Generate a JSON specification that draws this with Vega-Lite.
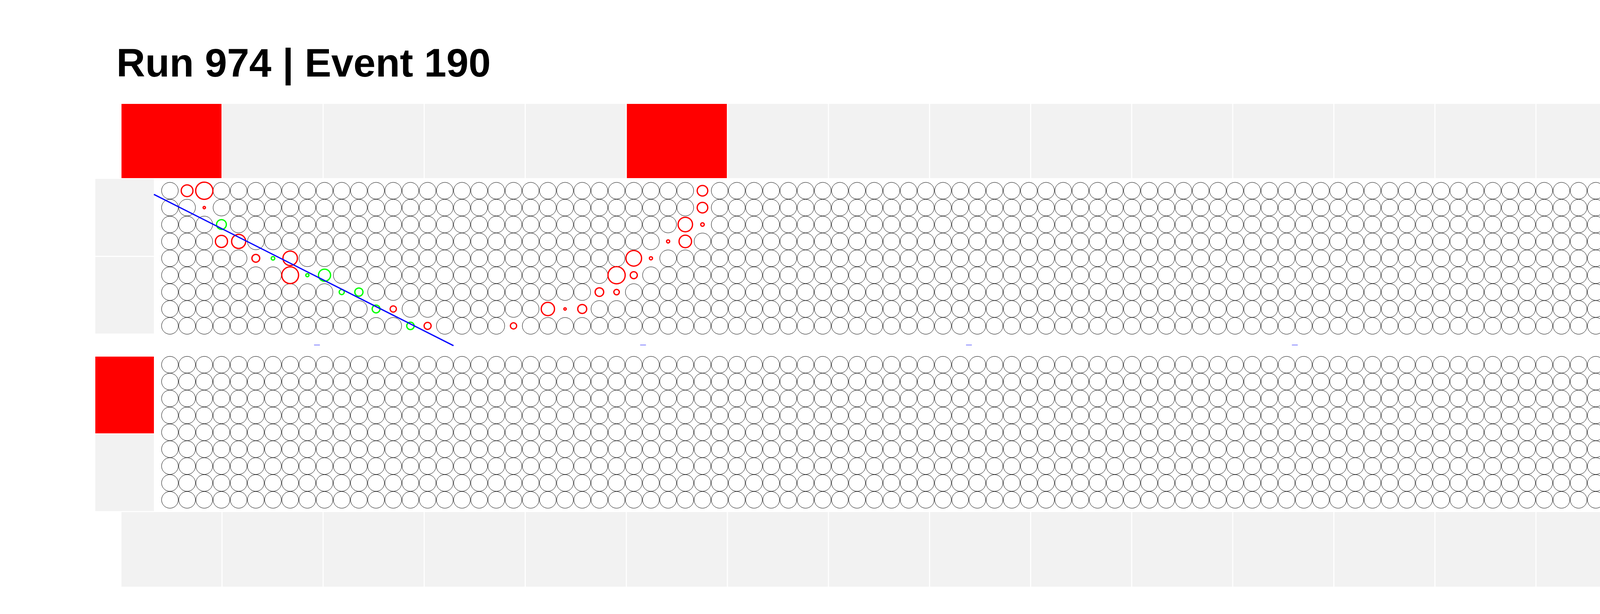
{
  "$schema": "https://vega.github.io/schema/vega-lite/v6.json",
  "width": 5796,
  "height": 1572,
  "autosize": {"type": "none"},
  "padding": 0,
  "background": "white",
  "config": {"view": {"stroke": null}},
  "datasets": {
    "boxes": [
      {"panel":"top","x0":-2.819,"x1":3.002,"y0":-51.40,"y1":-7.47,"state":"fired"},
      {"panel":"top","x0":3.064,"x1":8.885,"y0":-51.40,"y1":-7.47,"state":"idle"},
      {"panel":"top","x0":8.948,"x1":14.769,"y0":-51.40,"y1":-7.47,"state":"idle"},
      {"panel":"top","x0":14.831,"x1":20.652,"y0":-51.40,"y1":-7.47,"state":"idle"},
      {"panel":"top","x0":20.715,"x1":26.536,"y0":-51.40,"y1":-7.47,"state":"idle"},
      {"panel":"top","x0":26.598,"x1":32.419,"y0":-51.40,"y1":-7.47,"state":"fired"},
      {"panel":"top","x0":32.481,"x1":38.302,"y0":-51.40,"y1":-7.47,"state":"idle"},
      {"panel":"top","x0":38.365,"x1":44.186,"y0":-51.40,"y1":-7.47,"state":"idle"},
      {"panel":"top","x0":44.248,"x1":50.069,"y0":-51.40,"y1":-7.47,"state":"idle"},
      {"panel":"top","x0":50.132,"x1":55.953,"y0":-51.40,"y1":-7.47,"state":"idle"},
      {"panel":"top","x0":56.015,"x1":61.836,"y0":-51.40,"y1":-7.47,"state":"idle"},
      {"panel":"top","x0":61.898,"x1":67.719,"y0":-51.40,"y1":-7.47,"state":"idle"},
      {"panel":"top","x0":67.782,"x1":73.603,"y0":-51.40,"y1":-7.47,"state":"idle"},
      {"panel":"top","x0":73.665,"x1":79.486,"y0":-51.40,"y1":-7.47,"state":"idle"},
      {"panel":"top","x0":79.549,"x1":85.370,"y0":-51.40,"y1":-7.47,"state":"idle"},
      {"panel":"top","x0":85.432,"x1":91.253,"y0":-51.40,"y1":-7.47,"state":"idle"},
      {"panel":"top","x0":91.315,"x1":97.136,"y0":-51.40,"y1":-7.47,"state":"idle"},
      {"panel":"top","x0":97.199,"x1":103.020,"y0":-51.40,"y1":-7.47,"state":"idle"},
      {"panel":"top","x0":103.082,"x1":108.903,"y0":-51.40,"y1":-7.47,"state":"idle"},
      {"panel":"top","x0":108.966,"x1":114.787,"y0":-51.40,"y1":-7.47,"state":"idle"},
      {"panel":"bottom","x0":-2.819,"x1":3.002,"y0":190.22,"y1":234.38,"state":"idle"},
      {"panel":"bottom","x0":3.064,"x1":8.885,"y0":190.22,"y1":234.38,"state":"idle"},
      {"panel":"bottom","x0":8.948,"x1":14.769,"y0":190.22,"y1":234.38,"state":"idle"},
      {"panel":"bottom","x0":14.831,"x1":20.652,"y0":190.22,"y1":234.38,"state":"idle"},
      {"panel":"bottom","x0":20.715,"x1":26.536,"y0":190.22,"y1":234.38,"state":"idle"},
      {"panel":"bottom","x0":26.598,"x1":32.419,"y0":190.22,"y1":234.38,"state":"idle"},
      {"panel":"bottom","x0":32.481,"x1":38.302,"y0":190.22,"y1":234.38,"state":"idle"},
      {"panel":"bottom","x0":38.365,"x1":44.186,"y0":190.22,"y1":234.38,"state":"idle"},
      {"panel":"bottom","x0":44.248,"x1":50.069,"y0":190.22,"y1":234.38,"state":"idle"},
      {"panel":"bottom","x0":50.132,"x1":55.953,"y0":190.22,"y1":234.38,"state":"idle"},
      {"panel":"bottom","x0":56.015,"x1":61.836,"y0":190.22,"y1":234.38,"state":"idle"},
      {"panel":"bottom","x0":61.898,"x1":67.719,"y0":190.22,"y1":234.38,"state":"idle"},
      {"panel":"bottom","x0":67.782,"x1":73.603,"y0":190.22,"y1":234.38,"state":"idle"},
      {"panel":"bottom","x0":73.665,"x1":79.486,"y0":190.22,"y1":234.38,"state":"idle"},
      {"panel":"bottom","x0":79.549,"x1":85.370,"y0":190.22,"y1":234.38,"state":"idle"},
      {"panel":"bottom","x0":85.432,"x1":91.253,"y0":190.22,"y1":234.38,"state":"idle"},
      {"panel":"bottom","x0":91.315,"x1":97.136,"y0":190.22,"y1":234.38,"state":"idle"},
      {"panel":"bottom","x0":97.199,"x1":103.020,"y0":190.22,"y1":234.38,"state":"idle"},
      {"panel":"bottom","x0":103.082,"x1":108.903,"y0":190.22,"y1":234.38,"state":"idle"},
      {"panel":"bottom","x0":108.966,"x1":114.787,"y0":190.22,"y1":234.38,"state":"idle"},
      {"panel":"left","x0":-4.343,"x1":-0.932,"y0":-7.01,"y1":38.54,"state":"idle"},
      {"panel":"left","x0":-4.343,"x1":-0.932,"y0":39.21,"y1":84.53,"state":"idle"},
      {"panel":"left","x0":-4.343,"x1":-0.932,"y0":98.19,"y1":143.63,"state":"fired"},
      {"panel":"left","x0":-4.343,"x1":-0.932,"y0":144.32,"y1":189.64,"state":"idle"},
      {"panel":"right","x0":112.92,"x1":116.33,"y0":-7.01,"y1":38.54,"state":"fired"},
      {"panel":"right","x0":112.92,"x1":116.33,"y0":39.21,"y1":84.53,"state":"idle"},
      {"panel":"right","x0":112.92,"x1":116.33,"y0":98.19,"y1":143.63,"state":"idle"},
      {"panel":"right","x0":112.92,"x1":116.33,"y0":144.32,"y1":189.64,"state":"idle"}
    ],
    "pmt": [
{"x":0,"y":0},{"x":3,"y":0},{"x":4,"y":0},{"x":5,"y":0},{"x":6,"y":0},{"x":7,"y":0},{"x":8,"y":0},{"x":9,"y":0},{"x":10,"y":0},{"x":11,"y":0},{"x":12,"y":0},{"x":13,"y":0},{"x":14,"y":0},{"x":15,"y":0},{"x":16,"y":0},{"x":17,"y":0},{"x":18,"y":0},{"x":19,"y":0},{"x":20,"y":0},{"x":21,"y":0},{"x":22,"y":0},{"x":23,"y":0},{"x":24,"y":0},{"x":25,"y":0},{"x":26,"y":0},{"x":27,"y":0},{"x":28,"y":0},{"x":29,"y":0},{"x":30,"y":0},{"x":32,"y":0},{"x":33,"y":0},{"x":34,"y":0},{"x":35,"y":0},{"x":36,"y":0},{"x":37,"y":0},{"x":38,"y":0},{"x":39,"y":0},{"x":40,"y":0},{"x":41,"y":0},{"x":42,"y":0},{"x":43,"y":0},{"x":44,"y":0},{"x":45,"y":0},{"x":46,"y":0},{"x":47,"y":0},{"x":48,"y":0},{"x":49,"y":0},{"x":50,"y":0},{"x":51,"y":0},{"x":52,"y":0},{"x":53,"y":0},{"x":54,"y":0},{"x":55,"y":0},{"x":56,"y":0},{"x":57,"y":0},{"x":58,"y":0},{"x":59,"y":0},{"x":60,"y":0},{"x":61,"y":0},{"x":62,"y":0},{"x":63,"y":0},{"x":64,"y":0},{"x":65,"y":0},{"x":66,"y":0},{"x":67,"y":0},{"x":68,"y":0},{"x":69,"y":0},{"x":70,"y":0},{"x":71,"y":0},{"x":72,"y":0},{"x":73,"y":0},{"x":74,"y":0},{"x":75,"y":0},{"x":76,"y":0},{"x":77,"y":0},{"x":78,"y":0},{"x":79,"y":0},{"x":80,"y":0},{"x":81,"y":0},{"x":82,"y":0},{"x":83,"y":0},{"x":84,"y":0},{"x":85,"y":0},{"x":86,"y":0},{"x":87,"y":0},{"x":88,"y":0},{"x":89,"y":0},{"x":90,"y":0},{"x":91,"y":0},{"x":92,"y":0},{"x":93,"y":0},{"x":94,"y":0},{"x":95,"y":0},{"x":96,"y":0},{"x":97,"y":0},{"x":98,"y":0},{"x":99,"y":0},{"x":100,"y":0},{"x":101,"y":0},{"x":102,"y":0},{"x":103,"y":0},{"x":104,"y":0},{"x":105,"y":0},{"x":106,"y":0},{"x":107,"y":0},{"x":108,"y":0},{"x":109,"y":0},{"x":110,"y":0},{"x":111,"y":0},{"x":112,"y":0},
{"x":0,"y":10},{"x":1,"y":10},{"x":3,"y":10},{"x":4,"y":10},{"x":5,"y":10},{"x":6,"y":10},{"x":7,"y":10},{"x":8,"y":10},{"x":9,"y":10},{"x":10,"y":10},{"x":11,"y":10},{"x":12,"y":10},{"x":13,"y":10},{"x":14,"y":10},{"x":15,"y":10},{"x":16,"y":10},{"x":17,"y":10},{"x":18,"y":10},{"x":19,"y":10},{"x":20,"y":10},{"x":21,"y":10},{"x":22,"y":10},{"x":23,"y":10},{"x":24,"y":10},{"x":25,"y":10},{"x":26,"y":10},{"x":27,"y":10},{"x":28,"y":10},{"x":29,"y":10},{"x":30,"y":10},{"x":32,"y":10},{"x":33,"y":10},{"x":34,"y":10},{"x":35,"y":10},{"x":36,"y":10},{"x":37,"y":10},{"x":38,"y":10},{"x":39,"y":10},{"x":40,"y":10},{"x":41,"y":10},{"x":42,"y":10},{"x":43,"y":10},{"x":44,"y":10},{"x":45,"y":10},{"x":46,"y":10},{"x":47,"y":10},{"x":48,"y":10},{"x":49,"y":10},{"x":50,"y":10},{"x":51,"y":10},{"x":52,"y":10},{"x":53,"y":10},{"x":54,"y":10},{"x":55,"y":10},{"x":56,"y":10},{"x":57,"y":10},{"x":58,"y":10},{"x":59,"y":10},{"x":60,"y":10},{"x":61,"y":10},{"x":62,"y":10},{"x":63,"y":10},{"x":64,"y":10},{"x":65,"y":10},{"x":66,"y":10},{"x":67,"y":10},{"x":68,"y":10},{"x":69,"y":10},{"x":70,"y":10},{"x":71,"y":10},{"x":72,"y":10},{"x":73,"y":10},{"x":74,"y":10},{"x":75,"y":10},{"x":76,"y":10},{"x":77,"y":10},{"x":78,"y":10},{"x":79,"y":10},{"x":80,"y":10},{"x":81,"y":10},{"x":82,"y":10},{"x":83,"y":10},{"x":84,"y":10},{"x":85,"y":10},{"x":86,"y":10},{"x":87,"y":10},{"x":88,"y":10},{"x":89,"y":10},{"x":90,"y":10},{"x":91,"y":10},{"x":92,"y":10},{"x":93,"y":10},{"x":94,"y":10},{"x":95,"y":10},{"x":96,"y":10},{"x":97,"y":10},{"x":98,"y":10},{"x":99,"y":10},{"x":100,"y":10},{"x":101,"y":10},{"x":102,"y":10},{"x":103,"y":10},{"x":104,"y":10},{"x":105,"y":10},{"x":106,"y":10},{"x":107,"y":10},{"x":108,"y":10},{"x":109,"y":10},{"x":110,"y":10},{"x":111,"y":10},{"x":112,"y":10},
{"x":0,"y":20},{"x":1,"y":20},{"x":2,"y":20},{"x":4,"y":20},{"x":5,"y":20},{"x":6,"y":20},{"x":7,"y":20},{"x":8,"y":20},{"x":9,"y":20},{"x":10,"y":20},{"x":11,"y":20},{"x":12,"y":20},{"x":13,"y":20},{"x":14,"y":20},{"x":15,"y":20},{"x":16,"y":20},{"x":17,"y":20},{"x":18,"y":20},{"x":19,"y":20},{"x":20,"y":20},{"x":21,"y":20},{"x":22,"y":20},{"x":23,"y":20},{"x":24,"y":20},{"x":25,"y":20},{"x":26,"y":20},{"x":27,"y":20},{"x":28,"y":20},{"x":29,"y":20},{"x":32,"y":20},{"x":33,"y":20},{"x":34,"y":20},{"x":35,"y":20},{"x":36,"y":20},{"x":37,"y":20},{"x":38,"y":20},{"x":39,"y":20},{"x":40,"y":20},{"x":41,"y":20},{"x":42,"y":20},{"x":43,"y":20},{"x":44,"y":20},{"x":45,"y":20},{"x":46,"y":20},{"x":47,"y":20},{"x":48,"y":20},{"x":49,"y":20},{"x":50,"y":20},{"x":51,"y":20},{"x":52,"y":20},{"x":53,"y":20},{"x":54,"y":20},{"x":55,"y":20},{"x":56,"y":20},{"x":57,"y":20},{"x":58,"y":20},{"x":59,"y":20},{"x":60,"y":20},{"x":61,"y":20},{"x":62,"y":20},{"x":63,"y":20},{"x":64,"y":20},{"x":65,"y":20},{"x":66,"y":20},{"x":67,"y":20},{"x":68,"y":20},{"x":69,"y":20},{"x":70,"y":20},{"x":71,"y":20},{"x":72,"y":20},{"x":73,"y":20},{"x":74,"y":20},{"x":75,"y":20},{"x":76,"y":20},{"x":77,"y":20},{"x":78,"y":20},{"x":79,"y":20},{"x":80,"y":20},{"x":81,"y":20},{"x":82,"y":20},{"x":83,"y":20},{"x":84,"y":20},{"x":85,"y":20},{"x":86,"y":20},{"x":87,"y":20},{"x":88,"y":20},{"x":89,"y":20},{"x":90,"y":20},{"x":91,"y":20},{"x":92,"y":20},{"x":93,"y":20},{"x":94,"y":20},{"x":95,"y":20},{"x":96,"y":20},{"x":97,"y":20},{"x":98,"y":20},{"x":99,"y":20},{"x":100,"y":20},{"x":101,"y":20},{"x":102,"y":20},{"x":103,"y":20},{"x":104,"y":20},{"x":105,"y":20},{"x":106,"y":20},{"x":107,"y":20},{"x":108,"y":20},{"x":109,"y":20},{"x":110,"y":20},{"x":111,"y":20},{"x":112,"y":20},
{"x":0,"y":30},{"x":1,"y":30},{"x":2,"y":30},{"x":5,"y":30},{"x":6,"y":30},{"x":7,"y":30},{"x":8,"y":30},{"x":9,"y":30},{"x":10,"y":30},{"x":11,"y":30},{"x":12,"y":30},{"x":13,"y":30},{"x":14,"y":30},{"x":15,"y":30},{"x":16,"y":30},{"x":17,"y":30},{"x":18,"y":30},{"x":19,"y":30},{"x":20,"y":30},{"x":21,"y":30},{"x":22,"y":30},{"x":23,"y":30},{"x":24,"y":30},{"x":25,"y":30},{"x":26,"y":30},{"x":27,"y":30},{"x":28,"y":30},{"x":31,"y":30},{"x":32,"y":30},{"x":33,"y":30},{"x":34,"y":30},{"x":35,"y":30},{"x":36,"y":30},{"x":37,"y":30},{"x":38,"y":30},{"x":39,"y":30},{"x":40,"y":30},{"x":41,"y":30},{"x":42,"y":30},{"x":43,"y":30},{"x":44,"y":30},{"x":45,"y":30},{"x":46,"y":30},{"x":47,"y":30},{"x":48,"y":30},{"x":49,"y":30},{"x":50,"y":30},{"x":51,"y":30},{"x":52,"y":30},{"x":53,"y":30},{"x":54,"y":30},{"x":55,"y":30},{"x":56,"y":30},{"x":57,"y":30},{"x":58,"y":30},{"x":59,"y":30},{"x":60,"y":30},{"x":61,"y":30},{"x":62,"y":30},{"x":63,"y":30},{"x":64,"y":30},{"x":65,"y":30},{"x":66,"y":30},{"x":67,"y":30},{"x":68,"y":30},{"x":69,"y":30},{"x":70,"y":30},{"x":71,"y":30},{"x":72,"y":30},{"x":73,"y":30},{"x":74,"y":30},{"x":75,"y":30},{"x":76,"y":30},{"x":77,"y":30},{"x":78,"y":30},{"x":79,"y":30},{"x":80,"y":30},{"x":81,"y":30},{"x":82,"y":30},{"x":83,"y":30},{"x":84,"y":30},{"x":85,"y":30},{"x":86,"y":30},{"x":87,"y":30},{"x":88,"y":30},{"x":89,"y":30},{"x":90,"y":30},{"x":91,"y":30},{"x":92,"y":30},{"x":93,"y":30},{"x":94,"y":30},{"x":95,"y":30},{"x":96,"y":30},{"x":97,"y":30},{"x":98,"y":30},{"x":99,"y":30},{"x":100,"y":30},{"x":101,"y":30},{"x":102,"y":30},{"x":103,"y":30},{"x":104,"y":30},{"x":105,"y":30},{"x":106,"y":30},{"x":107,"y":30},{"x":108,"y":30},{"x":109,"y":30},{"x":110,"y":30},{"x":111,"y":30},{"x":112,"y":30},
{"x":0,"y":40},{"x":1,"y":40},{"x":2,"y":40},{"x":3,"y":40},{"x":4,"y":40},{"x":8,"y":40},{"x":9,"y":40},{"x":10,"y":40},{"x":11,"y":40},{"x":12,"y":40},{"x":13,"y":40},{"x":14,"y":40},{"x":15,"y":40},{"x":16,"y":40},{"x":17,"y":40},{"x":18,"y":40},{"x":19,"y":40},{"x":20,"y":40},{"x":21,"y":40},{"x":22,"y":40},{"x":23,"y":40},{"x":24,"y":40},{"x":25,"y":40},{"x":26,"y":40},{"x":29,"y":40},{"x":30,"y":40},{"x":31,"y":40},{"x":32,"y":40},{"x":33,"y":40},{"x":34,"y":40},{"x":35,"y":40},{"x":36,"y":40},{"x":37,"y":40},{"x":38,"y":40},{"x":39,"y":40},{"x":40,"y":40},{"x":41,"y":40},{"x":42,"y":40},{"x":43,"y":40},{"x":44,"y":40},{"x":45,"y":40},{"x":46,"y":40},{"x":47,"y":40},{"x":48,"y":40},{"x":49,"y":40},{"x":50,"y":40},{"x":51,"y":40},{"x":52,"y":40},{"x":53,"y":40},{"x":54,"y":40},{"x":55,"y":40},{"x":56,"y":40},{"x":57,"y":40},{"x":58,"y":40},{"x":59,"y":40},{"x":60,"y":40},{"x":61,"y":40},{"x":62,"y":40},{"x":63,"y":40},{"x":64,"y":40},{"x":65,"y":40},{"x":66,"y":40},{"x":67,"y":40},{"x":68,"y":40},{"x":69,"y":40},{"x":70,"y":40},{"x":71,"y":40},{"x":72,"y":40},{"x":73,"y":40},{"x":74,"y":40},{"x":75,"y":40},{"x":76,"y":40},{"x":77,"y":40},{"x":78,"y":40},{"x":79,"y":40},{"x":80,"y":40},{"x":81,"y":40},{"x":82,"y":40},{"x":83,"y":40},{"x":84,"y":40},{"x":85,"y":40},{"x":86,"y":40},{"x":87,"y":40},{"x":88,"y":40},{"x":89,"y":40},{"x":90,"y":40},{"x":91,"y":40},{"x":92,"y":40},{"x":93,"y":40},{"x":94,"y":40},{"x":95,"y":40},{"x":96,"y":40},{"x":97,"y":40},{"x":98,"y":40},{"x":99,"y":40},{"x":100,"y":40},{"x":101,"y":40},{"x":102,"y":40},{"x":103,"y":40},{"x":104,"y":40},{"x":105,"y":40},{"x":106,"y":40},{"x":107,"y":40},{"x":108,"y":40},{"x":109,"y":40},{"x":110,"y":40},{"x":111,"y":40},{"x":112,"y":40},
{"x":0,"y":50},{"x":1,"y":50},{"x":2,"y":50},{"x":3,"y":50},{"x":4,"y":50},{"x":5,"y":50},{"x":6,"y":50},{"x":10,"y":50},{"x":11,"y":50},{"x":12,"y":50},{"x":13,"y":50},{"x":14,"y":50},{"x":15,"y":50},{"x":16,"y":50},{"x":17,"y":50},{"x":18,"y":50},{"x":19,"y":50},{"x":20,"y":50},{"x":21,"y":50},{"x":22,"y":50},{"x":23,"y":50},{"x":24,"y":50},{"x":25,"y":50},{"x":28,"y":50},{"x":29,"y":50},{"x":30,"y":50},{"x":31,"y":50},{"x":32,"y":50},{"x":33,"y":50},{"x":34,"y":50},{"x":35,"y":50},{"x":36,"y":50},{"x":37,"y":50},{"x":38,"y":50},{"x":39,"y":50},{"x":40,"y":50},{"x":41,"y":50},{"x":42,"y":50},{"x":43,"y":50},{"x":44,"y":50},{"x":45,"y":50},{"x":46,"y":50},{"x":47,"y":50},{"x":48,"y":50},{"x":49,"y":50},{"x":50,"y":50},{"x":51,"y":50},{"x":52,"y":50},{"x":53,"y":50},{"x":54,"y":50},{"x":55,"y":50},{"x":56,"y":50},{"x":57,"y":50},{"x":58,"y":50},{"x":59,"y":50},{"x":60,"y":50},{"x":61,"y":50},{"x":62,"y":50},{"x":63,"y":50},{"x":64,"y":50},{"x":65,"y":50},{"x":66,"y":50},{"x":67,"y":50},{"x":68,"y":50},{"x":69,"y":50},{"x":70,"y":50},{"x":71,"y":50},{"x":72,"y":50},{"x":73,"y":50},{"x":74,"y":50},{"x":75,"y":50},{"x":76,"y":50},{"x":77,"y":50},{"x":78,"y":50},{"x":79,"y":50},{"x":80,"y":50},{"x":81,"y":50},{"x":82,"y":50},{"x":83,"y":50},{"x":84,"y":50},{"x":85,"y":50},{"x":86,"y":50},{"x":87,"y":50},{"x":88,"y":50},{"x":89,"y":50},{"x":90,"y":50},{"x":91,"y":50},{"x":92,"y":50},{"x":93,"y":50},{"x":94,"y":50},{"x":95,"y":50},{"x":96,"y":50},{"x":97,"y":50},{"x":98,"y":50},{"x":99,"y":50},{"x":100,"y":50},{"x":101,"y":50},{"x":102,"y":50},{"x":103,"y":50},{"x":104,"y":50},{"x":105,"y":50},{"x":106,"y":50},{"x":107,"y":50},{"x":108,"y":50},{"x":109,"y":50},{"x":110,"y":50},{"x":111,"y":50},{"x":112,"y":50},
{"x":0,"y":60},{"x":1,"y":60},{"x":2,"y":60},{"x":3,"y":60},{"x":4,"y":60},{"x":5,"y":60},{"x":6,"y":60},{"x":7,"y":60},{"x":8,"y":60},{"x":9,"y":60},{"x":12,"y":60},{"x":13,"y":60},{"x":14,"y":60},{"x":15,"y":60},{"x":16,"y":60},{"x":17,"y":60},{"x":18,"y":60},{"x":19,"y":60},{"x":20,"y":60},{"x":21,"y":60},{"x":22,"y":60},{"x":23,"y":60},{"x":24,"y":60},{"x":27,"y":60},{"x":28,"y":60},{"x":29,"y":60},{"x":30,"y":60},{"x":31,"y":60},{"x":32,"y":60},{"x":33,"y":60},{"x":34,"y":60},{"x":35,"y":60},{"x":36,"y":60},{"x":37,"y":60},{"x":38,"y":60},{"x":39,"y":60},{"x":40,"y":60},{"x":41,"y":60},{"x":42,"y":60},{"x":43,"y":60},{"x":44,"y":60},{"x":45,"y":60},{"x":46,"y":60},{"x":47,"y":60},{"x":48,"y":60},{"x":49,"y":60},{"x":50,"y":60},{"x":51,"y":60},{"x":52,"y":60},{"x":53,"y":60},{"x":54,"y":60},{"x":55,"y":60},{"x":56,"y":60},{"x":57,"y":60},{"x":58,"y":60},{"x":59,"y":60},{"x":60,"y":60},{"x":61,"y":60},{"x":62,"y":60},{"x":63,"y":60},{"x":64,"y":60},{"x":65,"y":60},{"x":66,"y":60},{"x":67,"y":60},{"x":68,"y":60},{"x":69,"y":60},{"x":70,"y":60},{"x":71,"y":60},{"x":72,"y":60},{"x":73,"y":60},{"x":74,"y":60},{"x":75,"y":60},{"x":76,"y":60},{"x":77,"y":60},{"x":78,"y":60},{"x":79,"y":60},{"x":80,"y":60},{"x":81,"y":60},{"x":82,"y":60},{"x":83,"y":60},{"x":84,"y":60},{"x":85,"y":60},{"x":86,"y":60},{"x":87,"y":60},{"x":88,"y":60},{"x":89,"y":60},{"x":90,"y":60},{"x":91,"y":60},{"x":92,"y":60},{"x":93,"y":60},{"x":94,"y":60},{"x":95,"y":60},{"x":96,"y":60},{"x":98,"y":60},{"x":99,"y":60},{"x":100,"y":60},{"x":101,"y":60},{"x":102,"y":60},{"x":103,"y":60},{"x":104,"y":60},{"x":105,"y":60},{"x":106,"y":60},{"x":107,"y":60},{"x":108,"y":60},{"x":109,"y":60},{"x":110,"y":60},{"x":111,"y":60},{"x":112,"y":60},
{"x":0,"y":70},{"x":1,"y":70},{"x":2,"y":70},{"x":3,"y":70},{"x":4,"y":70},{"x":5,"y":70},{"x":6,"y":70},{"x":7,"y":70},{"x":8,"y":70},{"x":9,"y":70},{"x":10,"y":70},{"x":11,"y":70},{"x":14,"y":70},{"x":15,"y":70},{"x":16,"y":70},{"x":17,"y":70},{"x":18,"y":70},{"x":19,"y":70},{"x":20,"y":70},{"x":21,"y":70},{"x":25,"y":70},{"x":26,"y":70},{"x":27,"y":70},{"x":28,"y":70},{"x":29,"y":70},{"x":30,"y":70},{"x":31,"y":70},{"x":32,"y":70},{"x":33,"y":70},{"x":34,"y":70},{"x":35,"y":70},{"x":36,"y":70},{"x":37,"y":70},{"x":38,"y":70},{"x":39,"y":70},{"x":40,"y":70},{"x":41,"y":70},{"x":42,"y":70},{"x":43,"y":70},{"x":44,"y":70},{"x":45,"y":70},{"x":46,"y":70},{"x":47,"y":70},{"x":48,"y":70},{"x":49,"y":70},{"x":50,"y":70},{"x":51,"y":70},{"x":52,"y":70},{"x":53,"y":70},{"x":54,"y":70},{"x":55,"y":70},{"x":56,"y":70},{"x":57,"y":70},{"x":58,"y":70},{"x":59,"y":70},{"x":60,"y":70},{"x":61,"y":70},{"x":62,"y":70},{"x":63,"y":70},{"x":64,"y":70},{"x":65,"y":70},{"x":66,"y":70},{"x":67,"y":70},{"x":68,"y":70},{"x":69,"y":70},{"x":70,"y":70},{"x":71,"y":70},{"x":72,"y":70},{"x":73,"y":70},{"x":74,"y":70},{"x":75,"y":70},{"x":76,"y":70},{"x":77,"y":70},{"x":78,"y":70},{"x":79,"y":70},{"x":80,"y":70},{"x":81,"y":70},{"x":82,"y":70},{"x":83,"y":70},{"x":84,"y":70},{"x":85,"y":70},{"x":86,"y":70},{"x":87,"y":70},{"x":88,"y":70},{"x":89,"y":70},{"x":90,"y":70},{"x":91,"y":70},{"x":92,"y":70},{"x":93,"y":70},{"x":94,"y":70},{"x":95,"y":70},{"x":96,"y":70},{"x":97,"y":70},{"x":98,"y":70},{"x":99,"y":70},{"x":100,"y":70},{"x":101,"y":70},{"x":102,"y":70},{"x":103,"y":70},{"x":104,"y":70},{"x":105,"y":70},{"x":106,"y":70},{"x":107,"y":70},{"x":108,"y":70},{"x":109,"y":70},{"x":110,"y":70},{"x":111,"y":70},{"x":112,"y":70},
{"x":0,"y":80},{"x":1,"y":80},{"x":2,"y":80},{"x":3,"y":80},{"x":4,"y":80},{"x":5,"y":80},{"x":6,"y":80},{"x":7,"y":80},{"x":8,"y":80},{"x":9,"y":80},{"x":10,"y":80},{"x":11,"y":80},{"x":12,"y":80},{"x":13,"y":80},{"x":16,"y":80},{"x":17,"y":80},{"x":18,"y":80},{"x":19,"y":80},{"x":21,"y":80},{"x":22,"y":80},{"x":23,"y":80},{"x":24,"y":80},{"x":25,"y":80},{"x":26,"y":80},{"x":27,"y":80},{"x":28,"y":80},{"x":29,"y":80},{"x":30,"y":80},{"x":31,"y":80},{"x":32,"y":80},{"x":33,"y":80},{"x":34,"y":80},{"x":35,"y":80},{"x":36,"y":80},{"x":37,"y":80},{"x":38,"y":80},{"x":39,"y":80},{"x":40,"y":80},{"x":41,"y":80},{"x":42,"y":80},{"x":43,"y":80},{"x":44,"y":80},{"x":45,"y":80},{"x":46,"y":80},{"x":47,"y":80},{"x":48,"y":80},{"x":49,"y":80},{"x":50,"y":80},{"x":51,"y":80},{"x":52,"y":80},{"x":53,"y":80},{"x":54,"y":80},{"x":55,"y":80},{"x":56,"y":80},{"x":57,"y":80},{"x":58,"y":80},{"x":59,"y":80},{"x":60,"y":80},{"x":61,"y":80},{"x":62,"y":80},{"x":63,"y":80},{"x":64,"y":80},{"x":65,"y":80},{"x":66,"y":80},{"x":67,"y":80},{"x":68,"y":80},{"x":69,"y":80},{"x":70,"y":80},{"x":71,"y":80},{"x":72,"y":80},{"x":73,"y":80},{"x":74,"y":80},{"x":75,"y":80},{"x":76,"y":80},{"x":77,"y":80},{"x":78,"y":80},{"x":79,"y":80},{"x":80,"y":80},{"x":81,"y":80},{"x":82,"y":80},{"x":83,"y":80},{"x":84,"y":80},{"x":85,"y":80},{"x":86,"y":80},{"x":87,"y":80},{"x":88,"y":80},{"x":89,"y":80},{"x":90,"y":80},{"x":91,"y":80},{"x":92,"y":80},{"x":93,"y":80},{"x":94,"y":80},{"x":95,"y":80},{"x":96,"y":80},{"x":97,"y":80},{"x":98,"y":80},{"x":99,"y":80},{"x":100,"y":80},{"x":101,"y":80},{"x":102,"y":80},{"x":103,"y":80},{"x":104,"y":80},{"x":105,"y":80},{"x":106,"y":80},{"x":107,"y":80},{"x":108,"y":80},{"x":109,"y":80},{"x":110,"y":80},{"x":111,"y":80},{"x":112,"y":80},
{"x":0,"y":103},{"x":1,"y":103},{"x":2,"y":103},{"x":3,"y":103},{"x":4,"y":103},{"x":5,"y":103},{"x":6,"y":103},{"x":7,"y":103},{"x":8,"y":103},{"x":9,"y":103},{"x":10,"y":103},{"x":11,"y":103},{"x":12,"y":103},{"x":13,"y":103},{"x":14,"y":103},{"x":15,"y":103},{"x":16,"y":103},{"x":17,"y":103},{"x":18,"y":103},{"x":19,"y":103},{"x":20,"y":103},{"x":21,"y":103},{"x":22,"y":103},{"x":23,"y":103},{"x":24,"y":103},{"x":25,"y":103},{"x":26,"y":103},{"x":27,"y":103},{"x":28,"y":103},{"x":29,"y":103},{"x":30,"y":103},{"x":31,"y":103},{"x":32,"y":103},{"x":33,"y":103},{"x":34,"y":103},{"x":35,"y":103},{"x":36,"y":103},{"x":37,"y":103},{"x":38,"y":103},{"x":39,"y":103},{"x":40,"y":103},{"x":41,"y":103},{"x":42,"y":103},{"x":43,"y":103},{"x":44,"y":103},{"x":45,"y":103},{"x":46,"y":103},{"x":47,"y":103},{"x":48,"y":103},{"x":49,"y":103},{"x":50,"y":103},{"x":51,"y":103},{"x":52,"y":103},{"x":53,"y":103},{"x":54,"y":103},{"x":55,"y":103},{"x":56,"y":103},{"x":57,"y":103},{"x":58,"y":103},{"x":59,"y":103},{"x":60,"y":103},{"x":61,"y":103},{"x":62,"y":103},{"x":63,"y":103},{"x":64,"y":103},{"x":65,"y":103},{"x":66,"y":103},{"x":67,"y":103},{"x":68,"y":103},{"x":69,"y":103},{"x":70,"y":103},{"x":71,"y":103},{"x":72,"y":103},{"x":73,"y":103},{"x":74,"y":103},{"x":75,"y":103},{"x":76,"y":103},{"x":77,"y":103},{"x":78,"y":103},{"x":79,"y":103},{"x":80,"y":103},{"x":81,"y":103},{"x":82,"y":103},{"x":83,"y":103},{"x":84,"y":103},{"x":85,"y":103},{"x":86,"y":103},{"x":87,"y":103},{"x":88,"y":103},{"x":89,"y":103},{"x":90,"y":103},{"x":91,"y":103},{"x":92,"y":103},{"x":93,"y":103},{"x":94,"y":103},{"x":95,"y":103},{"x":96,"y":103},{"x":97,"y":103},{"x":98,"y":103},{"x":99,"y":103},{"x":100,"y":103},{"x":101,"y":103},{"x":102,"y":103},{"x":103,"y":103},{"x":104,"y":103},{"x":105,"y":103},{"x":106,"y":103},{"x":107,"y":103},{"x":108,"y":103},{"x":109,"y":103},{"x":110,"y":103},{"x":111,"y":103},{"x":112,"y":103},
{"x":0,"y":113},{"x":1,"y":113},{"x":2,"y":113},{"x":3,"y":113},{"x":4,"y":113},{"x":5,"y":113},{"x":6,"y":113},{"x":7,"y":113},{"x":8,"y":113},{"x":9,"y":113},{"x":10,"y":113},{"x":11,"y":113},{"x":12,"y":113},{"x":13,"y":113},{"x":14,"y":113},{"x":15,"y":113},{"x":16,"y":113},{"x":17,"y":113},{"x":18,"y":113},{"x":19,"y":113},{"x":20,"y":113},{"x":21,"y":113},{"x":22,"y":113},{"x":23,"y":113},{"x":24,"y":113},{"x":25,"y":113},{"x":26,"y":113},{"x":27,"y":113},{"x":28,"y":113},{"x":29,"y":113},{"x":30,"y":113},{"x":31,"y":113},{"x":32,"y":113},{"x":33,"y":113},{"x":34,"y":113},{"x":35,"y":113},{"x":36,"y":113},{"x":37,"y":113},{"x":38,"y":113},{"x":39,"y":113},{"x":40,"y":113},{"x":41,"y":113},{"x":42,"y":113},{"x":43,"y":113},{"x":44,"y":113},{"x":45,"y":113},{"x":46,"y":113},{"x":47,"y":113},{"x":48,"y":113},{"x":49,"y":113},{"x":50,"y":113},{"x":51,"y":113},{"x":52,"y":113},{"x":53,"y":113},{"x":54,"y":113},{"x":55,"y":113},{"x":56,"y":113},{"x":57,"y":113},{"x":58,"y":113},{"x":59,"y":113},{"x":60,"y":113},{"x":61,"y":113},{"x":62,"y":113},{"x":63,"y":113},{"x":64,"y":113},{"x":65,"y":113},{"x":66,"y":113},{"x":67,"y":113},{"x":68,"y":113},{"x":69,"y":113},{"x":70,"y":113},{"x":71,"y":113},{"x":72,"y":113},{"x":73,"y":113},{"x":74,"y":113},{"x":75,"y":113},{"x":76,"y":113},{"x":77,"y":113},{"x":78,"y":113},{"x":79,"y":113},{"x":80,"y":113},{"x":81,"y":113},{"x":82,"y":113},{"x":83,"y":113},{"x":84,"y":113},{"x":85,"y":113},{"x":86,"y":113},{"x":87,"y":113},{"x":88,"y":113},{"x":89,"y":113},{"x":90,"y":113},{"x":91,"y":113},{"x":92,"y":113},{"x":93,"y":113},{"x":94,"y":113},{"x":95,"y":113},{"x":96,"y":113},{"x":97,"y":113},{"x":98,"y":113},{"x":99,"y":113},{"x":100,"y":113},{"x":101,"y":113},{"x":102,"y":113},{"x":103,"y":113},{"x":104,"y":113},{"x":105,"y":113},{"x":106,"y":113},{"x":107,"y":113},{"x":108,"y":113},{"x":109,"y":113},{"x":110,"y":113},{"x":111,"y":113},{"x":112,"y":113},
{"x":0,"y":123},{"x":1,"y":123},{"x":2,"y":123},{"x":3,"y":123},{"x":4,"y":123},{"x":5,"y":123},{"x":6,"y":123},{"x":7,"y":123},{"x":8,"y":123},{"x":9,"y":123},{"x":10,"y":123},{"x":11,"y":123},{"x":12,"y":123},{"x":13,"y":123},{"x":14,"y":123},{"x":15,"y":123},{"x":16,"y":123},{"x":17,"y":123},{"x":18,"y":123},{"x":19,"y":123},{"x":20,"y":123},{"x":21,"y":123},{"x":22,"y":123},{"x":23,"y":123},{"x":24,"y":123},{"x":25,"y":123},{"x":26,"y":123},{"x":27,"y":123},{"x":28,"y":123},{"x":29,"y":123},{"x":30,"y":123},{"x":31,"y":123},{"x":32,"y":123},{"x":33,"y":123},{"x":34,"y":123},{"x":35,"y":123},{"x":36,"y":123},{"x":37,"y":123},{"x":38,"y":123},{"x":39,"y":123},{"x":40,"y":123},{"x":41,"y":123},{"x":42,"y":123},{"x":43,"y":123},{"x":44,"y":123},{"x":45,"y":123},{"x":46,"y":123},{"x":47,"y":123},{"x":48,"y":123},{"x":49,"y":123},{"x":50,"y":123},{"x":51,"y":123},{"x":52,"y":123},{"x":53,"y":123},{"x":54,"y":123},{"x":55,"y":123},{"x":56,"y":123},{"x":57,"y":123},{"x":58,"y":123},{"x":59,"y":123},{"x":60,"y":123},{"x":61,"y":123},{"x":62,"y":123},{"x":63,"y":123},{"x":64,"y":123},{"x":65,"y":123},{"x":66,"y":123},{"x":67,"y":123},{"x":68,"y":123},{"x":69,"y":123},{"x":70,"y":123},{"x":71,"y":123},{"x":72,"y":123},{"x":73,"y":123},{"x":74,"y":123},{"x":75,"y":123},{"x":76,"y":123},{"x":77,"y":123},{"x":78,"y":123},{"x":79,"y":123},{"x":80,"y":123},{"x":81,"y":123},{"x":82,"y":123},{"x":83,"y":123},{"x":84,"y":123},{"x":85,"y":123},{"x":86,"y":123},{"x":87,"y":123},{"x":88,"y":123},{"x":89,"y":123},{"x":90,"y":123},{"x":91,"y":123},{"x":92,"y":123},{"x":93,"y":123},{"x":94,"y":123},{"x":95,"y":123},{"x":96,"y":123},{"x":97,"y":123},{"x":98,"y":123},{"x":99,"y":123},{"x":100,"y":123},{"x":101,"y":123},{"x":102,"y":123},{"x":103,"y":123},{"x":104,"y":123},{"x":105,"y":123},{"x":106,"y":123},{"x":107,"y":123},{"x":108,"y":123},{"x":109,"y":123},{"x":110,"y":123},{"x":111,"y":123},{"x":112,"y":123},
{"x":0,"y":133},{"x":1,"y":133},{"x":2,"y":133},{"x":3,"y":133},{"x":4,"y":133},{"x":5,"y":133},{"x":6,"y":133},{"x":7,"y":133},{"x":8,"y":133},{"x":9,"y":133},{"x":10,"y":133},{"x":11,"y":133},{"x":12,"y":133},{"x":13,"y":133},{"x":14,"y":133},{"x":15,"y":133},{"x":16,"y":133},{"x":17,"y":133},{"x":18,"y":133},{"x":19,"y":133},{"x":20,"y":133},{"x":21,"y":133},{"x":22,"y":133},{"x":23,"y":133},{"x":24,"y":133},{"x":25,"y":133},{"x":26,"y":133},{"x":27,"y":133},{"x":28,"y":133},{"x":29,"y":133},{"x":30,"y":133},{"x":31,"y":133},{"x":32,"y":133},{"x":33,"y":133},{"x":34,"y":133},{"x":35,"y":133},{"x":36,"y":133},{"x":37,"y":133},{"x":38,"y":133},{"x":39,"y":133},{"x":40,"y":133},{"x":41,"y":133},{"x":42,"y":133},{"x":43,"y":133},{"x":44,"y":133},{"x":45,"y":133},{"x":46,"y":133},{"x":47,"y":133},{"x":48,"y":133},{"x":49,"y":133},{"x":50,"y":133},{"x":51,"y":133},{"x":52,"y":133},{"x":53,"y":133},{"x":54,"y":133},{"x":55,"y":133},{"x":56,"y":133},{"x":57,"y":133},{"x":58,"y":133},{"x":59,"y":133},{"x":60,"y":133},{"x":61,"y":133},{"x":62,"y":133},{"x":63,"y":133},{"x":64,"y":133},{"x":65,"y":133},{"x":66,"y":133},{"x":67,"y":133},{"x":68,"y":133},{"x":69,"y":133},{"x":70,"y":133},{"x":71,"y":133},{"x":72,"y":133},{"x":73,"y":133},{"x":74,"y":133},{"x":75,"y":133},{"x":76,"y":133},{"x":77,"y":133},{"x":78,"y":133},{"x":79,"y":133},{"x":80,"y":133},{"x":81,"y":133},{"x":82,"y":133},{"x":83,"y":133},{"x":84,"y":133},{"x":85,"y":133},{"x":86,"y":133},{"x":87,"y":133},{"x":88,"y":133},{"x":89,"y":133},{"x":90,"y":133},{"x":91,"y":133},{"x":92,"y":133},{"x":93,"y":133},{"x":94,"y":133},{"x":95,"y":133},{"x":96,"y":133},{"x":97,"y":133},{"x":98,"y":133},{"x":99,"y":133},{"x":100,"y":133},{"x":101,"y":133},{"x":102,"y":133},{"x":103,"y":133},{"x":104,"y":133},{"x":105,"y":133},{"x":106,"y":133},{"x":107,"y":133},{"x":108,"y":133},{"x":109,"y":133},{"x":110,"y":133},{"x":111,"y":133},{"x":112,"y":133},
{"x":0,"y":143},{"x":1,"y":143},{"x":2,"y":143},{"x":3,"y":143},{"x":4,"y":143},{"x":5,"y":143},{"x":6,"y":143},{"x":7,"y":143},{"x":8,"y":143},{"x":9,"y":143},{"x":10,"y":143},{"x":11,"y":143},{"x":12,"y":143},{"x":13,"y":143},{"x":14,"y":143},{"x":15,"y":143},{"x":16,"y":143},{"x":17,"y":143},{"x":18,"y":143},{"x":19,"y":143},{"x":20,"y":143},{"x":21,"y":143},{"x":22,"y":143},{"x":23,"y":143},{"x":24,"y":143},{"x":25,"y":143},{"x":26,"y":143},{"x":27,"y":143},{"x":28,"y":143},{"x":29,"y":143},{"x":30,"y":143},{"x":31,"y":143},{"x":32,"y":143},{"x":33,"y":143},{"x":34,"y":143},{"x":35,"y":143},{"x":36,"y":143},{"x":37,"y":143},{"x":38,"y":143},{"x":39,"y":143},{"x":40,"y":143},{"x":41,"y":143},{"x":42,"y":143},{"x":43,"y":143},{"x":44,"y":143},{"x":45,"y":143},{"x":46,"y":143},{"x":47,"y":143},{"x":48,"y":143},{"x":49,"y":143},{"x":50,"y":143},{"x":51,"y":143},{"x":52,"y":143},{"x":53,"y":143},{"x":54,"y":143},{"x":55,"y":143},{"x":56,"y":143},{"x":57,"y":143},{"x":58,"y":143},{"x":59,"y":143},{"x":60,"y":143},{"x":61,"y":143},{"x":62,"y":143},{"x":63,"y":143},{"x":64,"y":143},{"x":65,"y":143},{"x":66,"y":143},{"x":67,"y":143},{"x":68,"y":143},{"x":69,"y":143},{"x":70,"y":143},{"x":71,"y":143},{"x":72,"y":143},{"x":73,"y":143},{"x":74,"y":143},{"x":75,"y":143},{"x":76,"y":143},{"x":77,"y":143},{"x":78,"y":143},{"x":79,"y":143},{"x":80,"y":143},{"x":81,"y":143},{"x":82,"y":143},{"x":83,"y":143},{"x":84,"y":143},{"x":85,"y":143},{"x":86,"y":143},{"x":87,"y":143},{"x":88,"y":143},{"x":89,"y":143},{"x":90,"y":143},{"x":91,"y":143},{"x":92,"y":143},{"x":93,"y":143},{"x":94,"y":143},{"x":95,"y":143},{"x":96,"y":143},{"x":97,"y":143},{"x":98,"y":143},{"x":99,"y":143},{"x":100,"y":143},{"x":101,"y":143},{"x":102,"y":143},{"x":103,"y":143},{"x":104,"y":143},{"x":105,"y":143},{"x":106,"y":143},{"x":107,"y":143},{"x":108,"y":143},{"x":109,"y":143},{"x":110,"y":143},{"x":111,"y":143},{"x":112,"y":143},
{"x":0,"y":153},{"x":1,"y":153},{"x":2,"y":153},{"x":3,"y":153},{"x":4,"y":153},{"x":5,"y":153},{"x":6,"y":153},{"x":7,"y":153},{"x":8,"y":153},{"x":9,"y":153},{"x":10,"y":153},{"x":11,"y":153},{"x":12,"y":153},{"x":13,"y":153},{"x":14,"y":153},{"x":15,"y":153},{"x":16,"y":153},{"x":17,"y":153},{"x":18,"y":153},{"x":19,"y":153},{"x":20,"y":153},{"x":21,"y":153},{"x":22,"y":153},{"x":23,"y":153},{"x":24,"y":153},{"x":25,"y":153},{"x":26,"y":153},{"x":27,"y":153},{"x":28,"y":153},{"x":29,"y":153},{"x":30,"y":153},{"x":31,"y":153},{"x":32,"y":153},{"x":33,"y":153},{"x":34,"y":153},{"x":35,"y":153},{"x":36,"y":153},{"x":37,"y":153},{"x":38,"y":153},{"x":39,"y":153},{"x":40,"y":153},{"x":41,"y":153},{"x":42,"y":153},{"x":43,"y":153},{"x":44,"y":153},{"x":45,"y":153},{"x":46,"y":153},{"x":47,"y":153},{"x":48,"y":153},{"x":49,"y":153},{"x":50,"y":153},{"x":51,"y":153},{"x":52,"y":153},{"x":53,"y":153},{"x":54,"y":153},{"x":55,"y":153},{"x":56,"y":153},{"x":57,"y":153},{"x":58,"y":153},{"x":59,"y":153},{"x":60,"y":153},{"x":61,"y":153},{"x":62,"y":153},{"x":63,"y":153},{"x":64,"y":153},{"x":65,"y":153},{"x":66,"y":153},{"x":67,"y":153},{"x":68,"y":153},{"x":69,"y":153},{"x":70,"y":153},{"x":71,"y":153},{"x":72,"y":153},{"x":73,"y":153},{"x":74,"y":153},{"x":75,"y":153},{"x":76,"y":153},{"x":77,"y":153},{"x":78,"y":153},{"x":79,"y":153},{"x":80,"y":153},{"x":81,"y":153},{"x":82,"y":153},{"x":83,"y":153},{"x":84,"y":153},{"x":85,"y":153},{"x":86,"y":153},{"x":87,"y":153},{"x":88,"y":153},{"x":89,"y":153},{"x":90,"y":153},{"x":91,"y":153},{"x":92,"y":153},{"x":93,"y":153},{"x":94,"y":153},{"x":95,"y":153},{"x":96,"y":153},{"x":97,"y":153},{"x":98,"y":153},{"x":99,"y":153},{"x":100,"y":153},{"x":101,"y":153},{"x":102,"y":153},{"x":103,"y":153},{"x":104,"y":153},{"x":105,"y":153},{"x":106,"y":153},{"x":107,"y":153},{"x":108,"y":153},{"x":109,"y":153},{"x":110,"y":153},{"x":111,"y":153},{"x":112,"y":153},
{"x":0,"y":163},{"x":1,"y":163},{"x":2,"y":163},{"x":3,"y":163},{"x":4,"y":163},{"x":5,"y":163},{"x":6,"y":163},{"x":7,"y":163},{"x":8,"y":163},{"x":9,"y":163},{"x":10,"y":163},{"x":11,"y":163},{"x":12,"y":163},{"x":13,"y":163},{"x":14,"y":163},{"x":15,"y":163},{"x":16,"y":163},{"x":17,"y":163},{"x":18,"y":163},{"x":19,"y":163},{"x":20,"y":163},{"x":21,"y":163},{"x":22,"y":163},{"x":23,"y":163},{"x":24,"y":163},{"x":25,"y":163},{"x":26,"y":163},{"x":27,"y":163},{"x":28,"y":163},{"x":29,"y":163},{"x":30,"y":163},{"x":31,"y":163},{"x":32,"y":163},{"x":33,"y":163},{"x":34,"y":163},{"x":35,"y":163},{"x":36,"y":163},{"x":37,"y":163},{"x":38,"y":163},{"x":39,"y":163},{"x":40,"y":163},{"x":41,"y":163},{"x":42,"y":163},{"x":43,"y":163},{"x":44,"y":163},{"x":45,"y":163},{"x":46,"y":163},{"x":47,"y":163},{"x":48,"y":163},{"x":49,"y":163},{"x":50,"y":163},{"x":51,"y":163},{"x":52,"y":163},{"x":53,"y":163},{"x":54,"y":163},{"x":55,"y":163},{"x":56,"y":163},{"x":57,"y":163},{"x":58,"y":163},{"x":59,"y":163},{"x":60,"y":163},{"x":61,"y":163},{"x":62,"y":163},{"x":63,"y":163},{"x":64,"y":163},{"x":65,"y":163},{"x":66,"y":163},{"x":67,"y":163},{"x":68,"y":163},{"x":69,"y":163},{"x":70,"y":163},{"x":71,"y":163},{"x":72,"y":163},{"x":73,"y":163},{"x":74,"y":163},{"x":75,"y":163},{"x":76,"y":163},{"x":77,"y":163},{"x":78,"y":163},{"x":79,"y":163},{"x":80,"y":163},{"x":81,"y":163},{"x":82,"y":163},{"x":83,"y":163},{"x":84,"y":163},{"x":85,"y":163},{"x":86,"y":163},{"x":87,"y":163},{"x":88,"y":163},{"x":89,"y":163},{"x":90,"y":163},{"x":91,"y":163},{"x":92,"y":163},{"x":93,"y":163},{"x":94,"y":163},{"x":95,"y":163},{"x":96,"y":163},{"x":97,"y":163},{"x":98,"y":163},{"x":99,"y":163},{"x":100,"y":163},{"x":101,"y":163},{"x":102,"y":163},{"x":103,"y":163},{"x":104,"y":163},{"x":105,"y":163},{"x":106,"y":163},{"x":107,"y":163},{"x":108,"y":163},{"x":109,"y":163},{"x":110,"y":163},{"x":111,"y":163},{"x":112,"y":163},
{"x":0,"y":173},{"x":1,"y":173},{"x":2,"y":173},{"x":3,"y":173},{"x":4,"y":173},{"x":5,"y":173},{"x":6,"y":173},{"x":7,"y":173},{"x":8,"y":173},{"x":9,"y":173},{"x":10,"y":173},{"x":11,"y":173},{"x":12,"y":173},{"x":13,"y":173},{"x":14,"y":173},{"x":15,"y":173},{"x":16,"y":173},{"x":17,"y":173},{"x":18,"y":173},{"x":19,"y":173},{"x":20,"y":173},{"x":21,"y":173},{"x":22,"y":173},{"x":23,"y":173},{"x":24,"y":173},{"x":25,"y":173},{"x":26,"y":173},{"x":27,"y":173},{"x":28,"y":173},{"x":29,"y":173},{"x":30,"y":173},{"x":31,"y":173},{"x":32,"y":173},{"x":33,"y":173},{"x":34,"y":173},{"x":35,"y":173},{"x":36,"y":173},{"x":37,"y":173},{"x":38,"y":173},{"x":39,"y":173},{"x":40,"y":173},{"x":41,"y":173},{"x":42,"y":173},{"x":43,"y":173},{"x":44,"y":173},{"x":45,"y":173},{"x":46,"y":173},{"x":47,"y":173},{"x":48,"y":173},{"x":49,"y":173},{"x":50,"y":173},{"x":51,"y":173},{"x":52,"y":173},{"x":53,"y":173},{"x":54,"y":173},{"x":55,"y":173},{"x":56,"y":173},{"x":57,"y":173},{"x":58,"y":173},{"x":59,"y":173},{"x":60,"y":173},{"x":61,"y":173},{"x":62,"y":173},{"x":63,"y":173},{"x":64,"y":173},{"x":65,"y":173},{"x":66,"y":173},{"x":67,"y":173},{"x":68,"y":173},{"x":69,"y":173},{"x":70,"y":173},{"x":71,"y":173},{"x":72,"y":173},{"x":73,"y":173},{"x":74,"y":173},{"x":75,"y":173},{"x":76,"y":173},{"x":77,"y":173},{"x":78,"y":173},{"x":79,"y":173},{"x":80,"y":173},{"x":81,"y":173},{"x":82,"y":173},{"x":83,"y":173},{"x":84,"y":173},{"x":85,"y":173},{"x":86,"y":173},{"x":87,"y":173},{"x":88,"y":173},{"x":89,"y":173},{"x":90,"y":173},{"x":91,"y":173},{"x":92,"y":173},{"x":93,"y":173},{"x":94,"y":173},{"x":95,"y":173},{"x":96,"y":173},{"x":97,"y":173},{"x":98,"y":173},{"x":99,"y":173},{"x":100,"y":173},{"x":101,"y":173},{"x":102,"y":173},{"x":103,"y":173},{"x":104,"y":173},{"x":105,"y":173},{"x":106,"y":173},{"x":107,"y":173},{"x":108,"y":173},{"x":109,"y":173},{"x":110,"y":173},{"x":111,"y":173},{"x":112,"y":173},
{"x":0,"y":183},{"x":1,"y":183},{"x":2,"y":183},{"x":3,"y":183},{"x":4,"y":183},{"x":5,"y":183},{"x":6,"y":183},{"x":7,"y":183},{"x":8,"y":183},{"x":9,"y":183},{"x":10,"y":183},{"x":11,"y":183},{"x":12,"y":183},{"x":13,"y":183},{"x":14,"y":183},{"x":15,"y":183},{"x":16,"y":183},{"x":17,"y":183},{"x":18,"y":183},{"x":19,"y":183},{"x":20,"y":183},{"x":21,"y":183},{"x":22,"y":183},{"x":23,"y":183},{"x":24,"y":183},{"x":25,"y":183},{"x":26,"y":183},{"x":27,"y":183},{"x":28,"y":183},{"x":29,"y":183},{"x":30,"y":183},{"x":31,"y":183},{"x":32,"y":183},{"x":33,"y":183},{"x":34,"y":183},{"x":35,"y":183},{"x":36,"y":183},{"x":37,"y":183},{"x":38,"y":183},{"x":39,"y":183},{"x":40,"y":183},{"x":41,"y":183},{"x":42,"y":183},{"x":43,"y":183},{"x":44,"y":183},{"x":45,"y":183},{"x":46,"y":183},{"x":47,"y":183},{"x":48,"y":183},{"x":49,"y":183},{"x":50,"y":183},{"x":51,"y":183},{"x":52,"y":183},{"x":53,"y":183},{"x":54,"y":183},{"x":55,"y":183},{"x":56,"y":183},{"x":57,"y":183},{"x":58,"y":183},{"x":59,"y":183},{"x":60,"y":183},{"x":61,"y":183},{"x":62,"y":183},{"x":63,"y":183},{"x":64,"y":183},{"x":65,"y":183},{"x":66,"y":183},{"x":67,"y":183},{"x":68,"y":183},{"x":69,"y":183},{"x":70,"y":183},{"x":71,"y":183},{"x":72,"y":183},{"x":73,"y":183},{"x":74,"y":183},{"x":75,"y":183},{"x":76,"y":183},{"x":77,"y":183},{"x":78,"y":183},{"x":79,"y":183},{"x":80,"y":183},{"x":81,"y":183},{"x":82,"y":183},{"x":83,"y":183},{"x":84,"y":183},{"x":85,"y":183},{"x":86,"y":183},{"x":87,"y":183},{"x":88,"y":183},{"x":89,"y":183},{"x":90,"y":183},{"x":91,"y":183},{"x":92,"y":183},{"x":93,"y":183},{"x":94,"y":183},{"x":95,"y":183},{"x":96,"y":183},{"x":97,"y":183},{"x":98,"y":183},{"x":99,"y":183},{"x":100,"y":183},{"x":101,"y":183},{"x":102,"y":183},{"x":103,"y":183},{"x":104,"y":183},{"x":105,"y":183},{"x":106,"y":183},{"x":107,"y":183},{"x":108,"y":183},{"x":109,"y":183},{"x":110,"y":183},{"x":111,"y":183},{"x":112,"y":183}
    ],
    "hits": [
      {"x":1,"y":0,"q":30,"tag":"other"},
      {"x":2,"y":0,"q":44,"tag":"other"},
      {"x":31,"y":0,"q":27,"tag":"other"},
      {"x":2,"y":10,"q":6,"tag":"other"},
      {"x":31,"y":10,"q":27,"tag":"other"},
      {"x":3,"y":20,"q":25,"tag":"track"},
      {"x":30,"y":20,"q":37,"tag":"other"},
      {"x":31,"y":20,"q":9,"tag":"other"},
      {"x":3,"y":30,"q":31,"tag":"other"},
      {"x":4,"y":30,"q":36,"tag":"other"},
      {"x":29,"y":30,"q":8,"tag":"other"},
      {"x":30,"y":30,"q":32,"tag":"other"},
      {"x":5,"y":40,"q":20,"tag":"other"},
      {"x":6,"y":40,"q":9,"tag":"track"},
      {"x":7,"y":40,"q":37,"tag":"other"},
      {"x":27,"y":40,"q":40,"tag":"other"},
      {"x":28,"y":40,"q":8,"tag":"other"},
      {"x":7,"y":50,"q":43,"tag":"other"},
      {"x":8,"y":50,"q":8,"tag":"track"},
      {"x":9,"y":50,"q":31,"tag":"track"},
      {"x":26,"y":50,"q":44,"tag":"other"},
      {"x":27,"y":50,"q":18,"tag":"other"},
      {"x":10,"y":60,"q":13,"tag":"track"},
      {"x":11,"y":60,"q":21,"tag":"track"},
      {"x":25,"y":60,"q":22,"tag":"other"},
      {"x":26,"y":60,"q":14,"tag":"other"},
      {"x":12,"y":70,"q":20,"tag":"track"},
      {"x":13,"y":70,"q":16,"tag":"other"},
      {"x":22,"y":70,"q":34,"tag":"other"},
      {"x":23,"y":70,"q":6,"tag":"other"},
      {"x":24,"y":70,"q":23,"tag":"other"},
      {"x":14,"y":80,"q":19,"tag":"track"},
      {"x":15,"y":80,"q":18,"tag":"other"},
      {"x":20,"y":80,"q":16,"tag":"other"}
    ],
    "flagged": [{"x":97,"y":60,"state":"saturated"}],
    "track": [{"x0":-0.932,"y0":2.17,"x1":16.507,"y1":91.72}],
    "marks": [
      {"x0":8.39,"x1":8.73,"y":91.33},
      {"x0":27.37,"x1":27.71,"y":91.33},
      {"x0":46.34,"x1":46.68,"y":91.33},
      {"x0":65.31,"x1":65.65,"y":91.33},
      {"x0":84.28,"x1":84.62,"y":91.33},
      {"x0":103.25,"x1":103.59,"y":91.33}
    ],
    "heading": [{"label":"Run 974 | Event 190","x":-3.115,"y":-67.58}]
  },
  "layer": [
    {
      "data": {"name": "boxes"},
      "mark": {"type": "rect"},
      "encoding": {
        "x": {"field": "x0", "type": "quantitative", "scale": {"domain": [-9.891, 121.899], "nice": false, "zero": false}, "axis": null},
        "x2": {"field": "x1"},
        "y": {"field": "y0", "type": "quantitative", "scale": {"domain": [-112.9, 250.57], "nice": false, "zero": false, "reverse": true}, "axis": null},
        "y2": {"field": "y1"},
        "fill": {"field": "state", "type": "nominal", "scale": {"domain": ["idle", "fired"], "range": ["#f2f2f2", "#ff0000"]}, "legend": null}
      }
    },
    {
      "data": {"name": "pmt"},
      "mark": {"type": "point", "shape": "circle", "filled": false, "stroke": "#000000", "strokeWidth": 1, "size": 1830, "opacity": 1},
      "encoding": {
        "x": {"field": "x", "type": "quantitative", "scale": {"domain": [-9.891, 121.899], "nice": false, "zero": false}, "axis": null},
        "y": {"field": "y", "type": "quantitative", "scale": {"domain": [-112.9, 250.57], "nice": false, "zero": false, "reverse": true}, "axis": null}
      }
    },
    {
      "data": {"name": "hits"},
      "mark": {"type": "point", "shape": "circle", "filled": false, "strokeWidth": 3.3, "opacity": 1},
      "encoding": {
        "x": {"field": "x", "type": "quantitative", "scale": {"domain": [-9.891, 121.899], "nice": false, "zero": false}, "axis": null},
        "y": {"field": "y", "type": "quantitative", "scale": {"domain": [-112.9, 250.57], "nice": false, "zero": false, "reverse": true}, "axis": null},
        "size": {"field": "q", "type": "quantitative", "scale": {"type": "pow", "exponent": 2, "domain": [0, 50], "range": [0, 2500]}, "legend": null},
        "stroke": {"field": "tag", "type": "nominal", "scale": {"domain": ["other", "track"], "range": ["#ff0000", "#00ff00"]}, "legend": null}
      }
    },
    {
      "data": {"name": "flagged"},
      "mark": {"type": "point", "shape": "circle", "filled": true, "fill": "#ffcc00", "stroke": "#000000", "strokeWidth": 0.7, "size": 1830, "opacity": 1},
      "encoding": {
        "x": {"field": "x", "type": "quantitative", "scale": {"domain": [-9.891, 121.899], "nice": false, "zero": false}, "axis": null},
        "y": {"field": "y", "type": "quantitative", "scale": {"domain": [-112.9, 250.57], "nice": false, "zero": false, "reverse": true}, "axis": null}
      }
    },
    {
      "data": {"name": "track"},
      "mark": {"type": "rule", "stroke": "#0000ff", "strokeWidth": 3.3},
      "encoding": {
        "x": {"field": "x0", "type": "quantitative", "scale": {"domain": [-9.891, 121.899], "nice": false, "zero": false}, "axis": null},
        "y": {"field": "y0", "type": "quantitative", "scale": {"domain": [-112.9, 250.57], "nice": false, "zero": false, "reverse": true}, "axis": null},
        "x2": {"field": "x1"},
        "y2": {"field": "y1"}
      }
    },
    {
      "data": {"name": "marks"},
      "mark": {"type": "rule", "stroke": "#0000ff", "strokeWidth": 1},
      "encoding": {
        "x": {"field": "x0", "type": "quantitative", "scale": {"domain": [-9.891, 121.899], "nice": false, "zero": false}, "axis": null},
        "x2": {"field": "x1"},
        "y": {"field": "y", "type": "quantitative", "scale": {"domain": [-112.9, 250.57], "nice": false, "zero": false, "reverse": true}, "axis": null}
      }
    },
    {
      "data": {"name": "heading"},
      "mark": {"type": "text", "font": "Liberation Sans", "fontSize": 102, "fontWeight": "bold", "align": "left", "baseline": "alphabetic", "color": "#000000"},
      "encoding": {
        "x": {"field": "x", "type": "quantitative", "scale": {"domain": [-9.891, 121.899], "nice": false, "zero": false}, "axis": null},
        "y": {"field": "y", "type": "quantitative", "scale": {"domain": [-112.9, 250.57], "nice": false, "zero": false, "reverse": true}, "axis": null},
        "text": {"field": "label", "type": "nominal"}
      }
    }
  ]
}
